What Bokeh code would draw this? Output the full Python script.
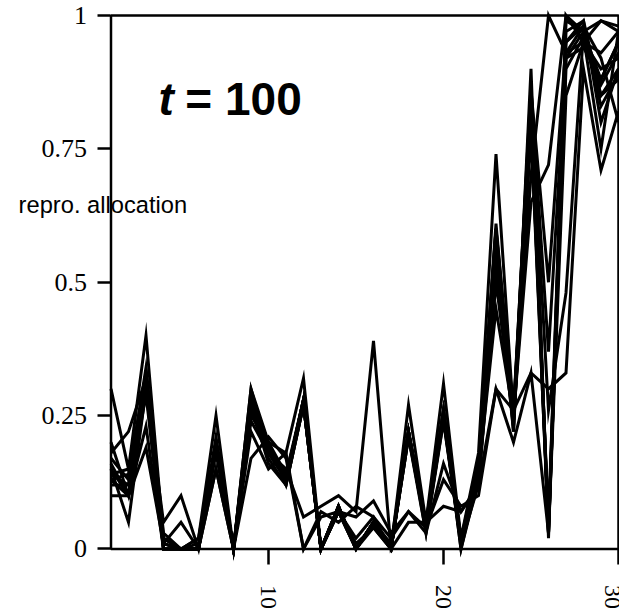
from bokeh.plotting import figure
from bokeh.models import FixedTicker, Label, Range1d, BoxAnnotation
from bokeh.embed import file_html
from bokeh.resources import INLINE

# ---- data ----
x_vals = list(range(1, 31))
series = {
    "A": [0.30,0.15,0.40,0.02,0.00,0.02,0.25,0.00,0.30,0.20,0.18,0.32,0.00,0.07,0.00,0.05,0.00,0.27,0.05,0.31,0.02,0.18,0.74,0.25,0.87,0.03,1.00,0.95,0.90,0.92],
    "B": [0.20,0.10,0.32,0.01,0.00,0.00,0.20,0.00,0.27,0.19,0.13,0.28,0.00,0.08,0.00,0.05,0.01,0.22,0.04,0.26,0.01,0.15,0.61,0.24,0.82,0.05,0.95,0.98,0.85,0.88],
    "C": [0.15,0.05,0.30,0.00,0.00,0.01,0.19,0.00,0.26,0.17,0.12,0.27,0.00,0.07,0.01,0.04,0.00,0.21,0.03,0.25,0.00,0.13,0.58,0.26,0.80,0.03,0.92,0.97,0.88,0.95],
    "D": [0.14,0.15,0.31,0.02,0.00,0.00,0.18,0.00,0.28,0.18,0.14,0.28,0.00,0.08,0.00,0.05,0.00,0.22,0.03,0.24,0.02,0.16,0.55,0.22,0.90,0.02,0.97,0.99,0.80,0.90],
    "E": [0.16,0.10,0.29,0.00,0.00,0.00,0.20,0.00,0.25,0.20,0.12,0.27,0.00,0.07,0.00,0.04,0.00,0.21,0.05,0.25,0.01,0.12,0.52,0.23,0.78,0.04,0.90,0.96,0.75,0.97],
    "F": [0.12,0.12,0.33,0.01,0.00,0.00,0.21,0.00,0.29,0.19,0.13,0.28,0.00,0.07,0.00,0.05,0.00,0.22,0.04,0.26,0.00,0.14,0.60,0.26,0.85,0.03,0.93,0.98,0.92,0.80],
    "G": [0.13,0.10,0.23,0.00,0.00,0.00,0.15,0.00,0.22,0.15,0.18,0.00,0.06,0.07,0.06,0.09,0.03,0.07,0.03,0.16,0.07,0.12,0.30,0.20,0.33,0.03,0.85,0.95,0.93,0.97],
    "H": [0.10,0.10,0.19,0.01,0.05,0.00,0.15,0.00,0.17,0.21,0.17,0.00,0.07,0.05,0.08,0.06,0.02,0.07,0.04,0.13,0.08,0.10,0.30,0.26,0.33,0.30,0.33,0.90,0.71,0.82],
    "I": [0.13,0.10,0.30,0.05,0.10,0.00,0.20,0.00,0.24,0.18,0.15,0.06,0.08,0.10,0.07,0.39,0.00,0.05,0.05,0.08,0.07,0.12,0.50,0.25,0.65,0.72,1.00,0.97,0.99,0.98],
    "J": [0.17,0.13,0.34,0.03,0.00,0.02,0.20,0.00,0.27,0.16,0.12,0.27,0.00,0.07,0.02,0.06,0.00,0.21,0.04,0.24,0.01,0.15,0.58,0.25,0.80,0.05,0.99,0.97,0.87,0.93],
    "K": [0.18,0.22,0.32,0.00,0.00,0.00,0.20,0.00,0.30,0.18,0.13,0.28,0.00,0.08,0.00,0.05,0.00,0.22,0.04,0.25,0.02,0.14,0.57,0.24,0.84,0.26,0.48,0.97,0.83,0.89],
    "L": [0.13,0.14,0.33,0.00,0.00,0.00,0.20,0.00,0.26,0.20,0.14,0.27,0.00,0.08,0.00,0.05,0.00,0.22,0.05,0.26,0.01,0.14,0.60,0.22,0.86,0.37,0.92,0.94,0.88,0.95],
    "M": [0.15,0.10,0.31,0.01,0.00,0.00,0.19,0.00,0.28,0.19,0.13,0.28,0.00,0.08,0.00,0.05,0.00,0.22,0.04,0.26,0.01,0.14,0.59,0.24,0.86,0.50,0.95,0.99,0.85,0.90],
    "N": [0.14,0.12,0.30,0.02,0.00,0.00,0.20,0.00,0.27,0.18,0.13,0.27,0.00,0.08,0.00,0.05,0.00,0.22,0.04,0.25,0.01,0.14,0.45,0.25,0.70,1.00,0.93,0.95,0.99,0.97],
}
y_ticks = [0, 0.25, 0.5, 0.75, 1]
y_tick_labels = ["0", "0.25", "0.5", "0.75", "1"]
x_ticks = [10, 20, 30]
x_tick_labels = ["10", "20", "30"]
x_first, x_last = 1, 30
y_low, y_high = 0, 1

p = figure(width=619, height=614, output_backend="svg", toolbar_location=None,
           x_range=Range1d(-5.314, 30.057), y_range=Range1d(-0.1228, 1.0281),
           min_border_left=0, min_border_right=0, min_border_top=0, min_border_bottom=0)

for name, ys in series.items():
    p.line(x_vals, ys, line_color="black", line_width=3, line_join="miter")

p.xgrid.visible = False
p.ygrid.visible = False
p.outline_line_color = None
p.background_fill_color = "white"
p.border_fill_color = "white"

# plot box
p.add_layout(BoxAnnotation(left=x_first, right=x_last, bottom=y_low, top=y_high,
                           fill_alpha=0, line_color="black", line_alpha=1.0,
                           line_width=2.5))

for ax in (p.xaxis[0], p.yaxis[0]):
    ax.axis_line_color = None
    ax.major_tick_line_width = 2.5
    ax.major_tick_line_color = "black"
    ax.major_tick_in = 0
    ax.minor_tick_line_color = None
    ax.major_label_text_font = "Liberation Serif"
    ax.major_label_text_color = "black"

p.yaxis[0].fixed_location = x_first
p.yaxis[0].ticker = FixedTicker(ticks=y_ticks)
p.yaxis[0].major_label_overrides = {t: l for t, l in zip(y_ticks, y_tick_labels)}
p.yaxis[0].major_tick_out = 13
p.yaxis[0].major_label_standoff = 11
p.yaxis[0].major_label_text_font_size = "26px"

p.xaxis[0].fixed_location = y_low
p.xaxis[0].ticker = FixedTicker(ticks=x_ticks)
p.xaxis[0].major_label_overrides = {t: l for t, l in zip(x_ticks, x_tick_labels)}
p.xaxis[0].major_tick_out = 16
p.xaxis[0].major_label_standoff = 20
p.xaxis[0].major_label_orientation = "vertical"
p.xaxis[0].major_label_text_font_size = "24px"

p.add_layout(Label(x=3.71, y=0.843, text="t", text_font="Liberation Sans",
                   text_font_style="bold italic", text_font_size="46px",
                   text_color="black", text_baseline="alphabetic", text_align="left"))
p.add_layout(Label(x=5.25, y=0.843, text="= 100", text_font="Liberation Sans",
                   text_font_style="bold", text_font_size="46px",
                   text_color="black", text_baseline="alphabetic", text_align="left"))
p.add_layout(Label(x=-4.28, y=0.644, text="repro. allocation", text_font="Liberation Sans",
                   text_font_size="23.7px", text_color="black",
                   text_baseline="middle", text_align="left"))

open("out.html", "w").write(file_html(p, INLINE))
